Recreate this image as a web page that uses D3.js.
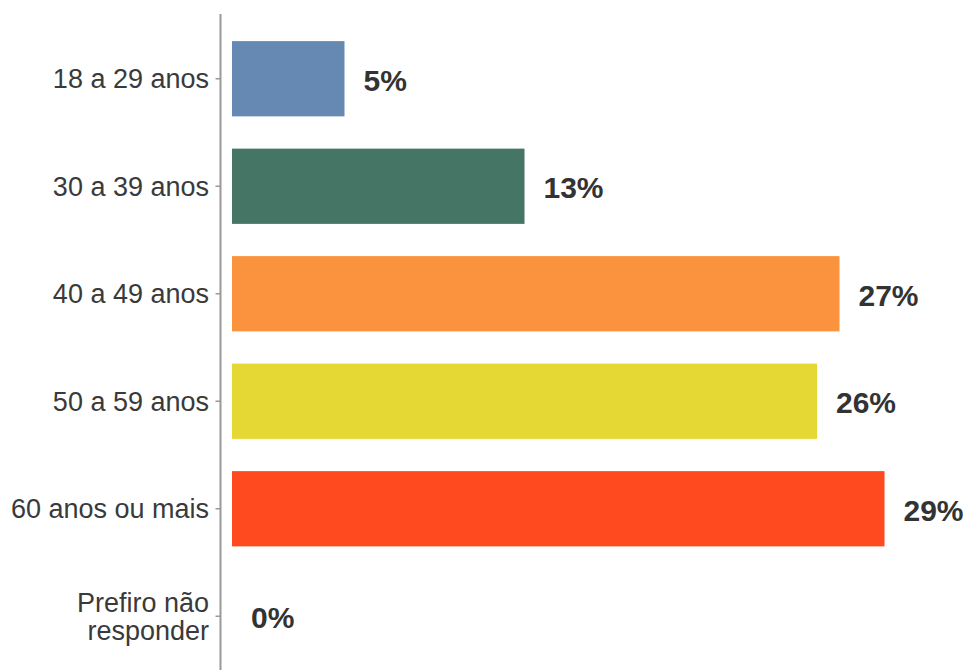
<!DOCTYPE html>
<html>
<head>
<meta charset="utf-8">
<script src="https://cdn.jsdelivr.net/npm/d3@7"></script>
<style>
  html, body { margin: 0; padding: 0; background: #ffffff; }
  svg { display: block; }
</style>
</head>
<body>
<svg id="chart" width="971" height="670"></svg>
<script>
// Age groups and their share of respondents (%)
const categories = ["18 a 29 anos", "30 a 39 anos", "40 a 49 anos", "50 a 59 anos", "60 anos ou mais", "Prefiro não responder"];
const values = [5, 13, 27, 26, 29, 0];
const valueLabels = ["5%", "13%", "27%", "26%", "29%", "0%"];
const barColors = ["#6589b2", "#457564", "#fb923d", "#e5d835", "#ff4a1f", "#999999"];
const labelLines = [["18 a 29 anos"], ["30 a 39 anos"], ["40 a 49 anos"], ["50 a 59 anos"], ["60 anos ou mais"], ["Prefiro não", "responder"]];

const svg = d3.select("#chart");
const font = "'Liberation Sans', Arial, Helvetica, sans-serif";

const axisX = 220.5;
const x = d3.scaleLinear().domain([0, 30]).range([232, 907]);
const y = d3.scaleBand()
  .domain(categories)
  .range([25, 670])
  .paddingInner(0.3)
  .paddingOuter(0.15);

// Bars
svg.append("g")
  .selectAll("rect")
  .data(categories)
  .join("rect")
  .attr("x", x(0))
  .attr("y", d => y(d))
  .attr("width", (d, i) => x(values[i]) - x(0))
  .attr("height", y.bandwidth())
  .attr("fill", (d, i) => barColors[i]);

// Value labels
svg.append("g")
  .selectAll("text")
  .data(categories)
  .join("text")
  .attr("x", (d, i) => x(values[i]) + 19)
  .attr("y", d => y(d) + y.bandwidth() / 2)
  .attr("dy", "0.4em")
  .attr("font-family", font)
  .attr("font-weight", "bold")
  .attr("font-size", 30)
  .attr("fill", "#333333")
  .text((d, i) => valueLabels[i]);

// Left axis: vertical rule, ticks and category labels
const yAxis = d3.axisLeft(y).tickSize(5).tickSizeOuter(0).tickPadding(6).tickFormat("");
const gAxis = svg.append("g")
  .attr("transform", `translate(${axisX},0)`)
  .call(yAxis);
gAxis.select(".domain").remove();
gAxis.selectAll(".tick line").attr("stroke", "#999999").attr("stroke-width", 1.5);

gAxis.append("line")
  .attr("x1", 0).attr("x2", 0)
  .attr("y1", 14).attr("y2", 670)
  .attr("stroke", "#999999")
  .attr("stroke-width", 2);

gAxis.selectAll(".tick").each(function(d, i) {
  const lines = labelLines[i];
  const lh = 28;
  const t = d3.select(this).append("text")
    .attr("x", -11.5)
    .attr("text-anchor", "end")
    .attr("font-family", font)
    .attr("font-size", 27)
    .attr("fill", "#3a3a3a");
  lines.forEach((ln, k) => {
    t.append("tspan")
      .attr("x", -11.5)
      .attr("y", (k - (lines.length - 1) / 2) * lh)
      .attr("dy", "0.35em")
      .text(ln);
  });
});
</script>
</body>
</html>
